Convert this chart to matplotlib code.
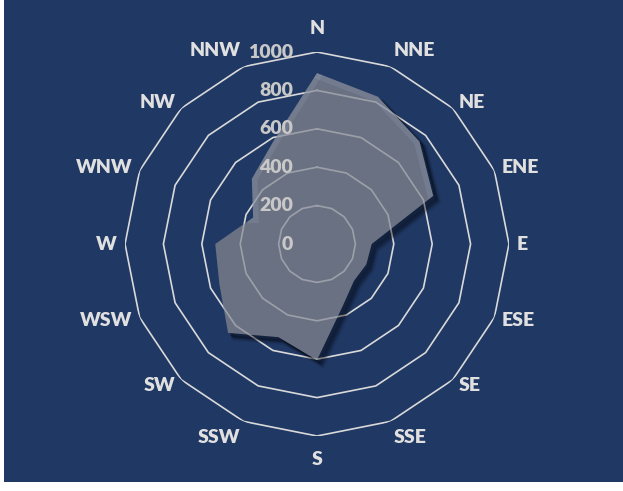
import matplotlib
matplotlib.use('Agg')
import matplotlib.pyplot as plt
import matplotlib.transforms as mtransforms
import numpy as np

# wind direction data
directions = ['N', 'NNE', 'NE', 'ENE', 'E', 'ESE', 'SE', 'SSE',
              'S', 'SSW', 'SW', 'WSW', 'W', 'WNW', 'NW', 'NNW']
values = [890, 830, 755, 655, 285, 278, 272, 350,
          605, 525, 655, 550, 530, 360, 480, 585]
rings = [200, 400, 600, 800, 1000]
ring_labels = ['0', '200', '400', '600', '800', '1000']

bg = '#203864'
grid_col = '#d9d9d9'
fill_col = '#6a7182'

plt.rcParams['font.family'] = ['Lato', 'DejaVu Sans']

fig = plt.figure(figsize=(6.23, 4.91), dpi=100)
fig.patch.set_facecolor('white')
fig.patches.append(plt.Rectangle((4 / 623, 9 / 491), 1, 1, transform=fig.transFigure,
                                 facecolor=bg, edgecolor='none', zorder=-5))

ax = fig.add_axes([125 / 623, 55 / 491, 384 / 623, 384 / 491], projection='polar')
ax.set_zorder(2)
ax.set_theta_zero_location('N')
ax.set_theta_direction(-1)
ax.set_ylim(0, 1000)
ax.set_axis_off()

n = len(directions)
theta = np.linspace(0, 2 * np.pi, n, endpoint=False)
theta_c = np.append(theta, theta[0])
vals_c = np.append(values, values[0])

# polygon grid
for r in rings:
    ax.plot(theta_c, [r] * (n + 1), color=grid_col, lw=1.2, zorder=1)

# soft shadow
for i, (dx, a) in enumerate([(6, 0.08), (5, 0.10), (4, 0.12), (3, 0.14)]):
    tr = mtransforms.offset_copy(ax.transData, fig=fig, x=dx, y=-dx, units='dots')
    ax.fill(theta_c, vals_c, color='black', alpha=a, lw=3 - i * 0.7,
            edgecolor='black', transform=tr, zorder=2)

# series fill (opaque), grid seen through it
patch = ax.fill(theta_c, vals_c, color=fill_col, lw=0, zorder=3)[0]
for r in rings:
    ln, = ax.plot(theta_c, [r] * (n + 1), color=grid_col, lw=1.2, alpha=0.45, zorder=4)
    ln.set_clip_path(patch)
glow, = ax.plot(theta_c[:4], vals_c[:4], color='#9aa8c2', lw=8, alpha=0.2, zorder=4)
glow.set_clip_path(patch)
glow2, = ax.plot(theta_c[13:], vals_c[13:], color='#9aa8c2', lw=8, alpha=0.2, zorder=4)
glow2.set_clip_path(patch)

# category labels
for t, lab in zip(theta, directions):
    s, c = np.sin(t), np.cos(t)
    ha = 'left' if s > 0.2 else ('right' if s < -0.2 else 'center')
    va = 'bottom' if c > 0.8 else ('top' if c < -0.8 else 'center')
    off = 8 + (7 if abs(c) > 0.99 else 0)
    ax.annotate(lab, xy=(t, 1000), xytext=(off * s, off * c), textcoords='offset pixels',
                ha=ha, va=va, fontsize=14, fontweight='heavy', color='#e0e0e0',
                annotation_clip=False, zorder=6)

# radial value labels
for r, lab in zip([0] + rings, ring_labels):
    ax.annotate(lab, xy=(0, r), xytext=(-24, 0), textcoords='offset pixels',
                ha='right', va='center', fontsize=14, fontweight='heavy',
                color='#c8c8c8', annotation_clip=False, zorder=6)

plt.savefig('out.png', dpi=100, facecolor=fig.get_facecolor())
